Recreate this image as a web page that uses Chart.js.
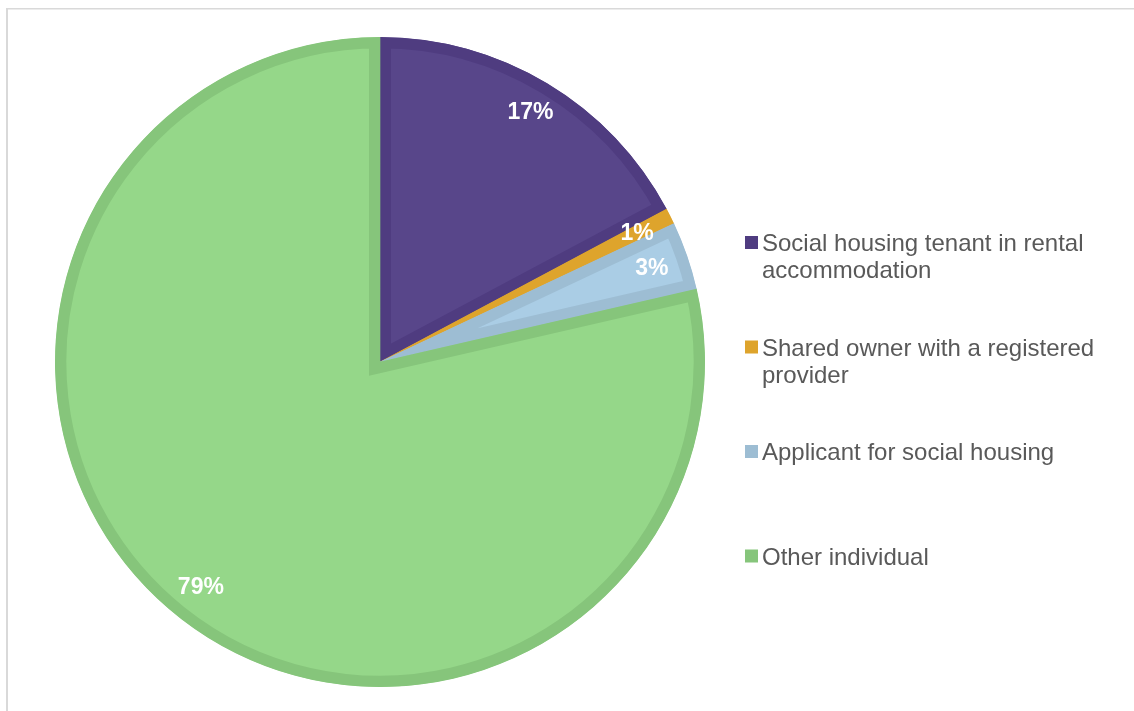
<!DOCTYPE html>
<html>
<head>
<meta charset="utf-8">
<script src="https://cdn.jsdelivr.net/npm/chart.js@4/dist/chart.umd.min.js"></script>
<style>
  html, body { margin: 0; padding: 0; background: #fff; }
  #wrap { width: 1134px; height: 711px; position: relative; }
</style>
</head>
<body>
<div id="wrap"><canvas id="chart"></canvas></div>
<script>
const categories = [
  "Social housing tenant in rental accommodation",
  "Shared owner with a registered provider",
  "Applicant for social housing",
  "Other individual",
];
const shares = [17.2, 0.8, 3.4, 78.6];
const fillColors = ["#58468a", "#e8ad33", "#aacde5", "#95d789"];
const edgeColors = ["#4f3c80", "#dea42c", "#9dbdd3", "#86c57b"];

const FONT = '"Liberation Sans", Arial, sans-serif';

// light frame along top and left edge, like the source sheet
const framePlugin = {
  id: "frame",
  beforeDraw(chart) {
    const ctx = chart.ctx;
    ctx.save();
    ctx.fillStyle = "#d9d9d9";
    ctx.fillRect(6, 8, chart.width - 6, 1.5);
    ctx.fillRect(6, 8, 2, chart.height - 8);
    ctx.restore();
  },
};

// percentage labels inside each slice
const sliceLabels = {
  id: "sliceLabels",
  afterDatasetsDraw(chart) {
    const ctx = chart.ctx;
    const meta = chart.getDatasetMeta(0);
    const total = shares.reduce((a, b) => a + b, 0);
    ctx.save();
    ctx.fillStyle = "#ffffff";
    ctx.font = "bold 23px " + FONT;
    ctx.textAlign = "center";
    ctx.textBaseline = "middle";
    meta.data.forEach((arc, i) => {
      const p = arc.getProps(["x", "y", "startAngle", "endAngle", "outerRadius"], true);
      const mid = (p.startAngle + p.endAngle) / 2;
      const r = p.outerRadius * (i === 0 ? 0.9 : 0.885);
      const txt = Math.round((shares[i] / total) * 100) + "%";
      ctx.fillText(txt, p.x + Math.cos(mid) * r, p.y + Math.sin(mid) * r + 1);
    });
    ctx.restore();
  },
};

// legend on the right, wrapped like the original
const sideLegend = {
  id: "sideLegend",
  afterDraw(chart) {
    const ctx = chart.ctx;
    const x0 = 745;
    const textX = 762;
    const maxW = 345;
    let baseline = 251;
    ctx.save();
    ctx.font = "24px " + FONT;
    ctx.textBaseline = "alphabetic";
    ctx.textAlign = "left";
    categories.forEach((label, i) => {
      ctx.fillStyle = edgeColors[i];
      ctx.fillRect(x0, baseline - 15, 13, 13);

      const words = label.split(" ");
      const lines = [];
      let line = "";
      words.forEach((w) => {
        const test = line ? line + " " + w : w;
        if (ctx.measureText(test).width > maxW && line) {
          lines.push(line);
          line = w;
        } else {
          line = test;
        }
      });
      lines.push(line);

      ctx.fillStyle = "#595959";
      lines.forEach((l, j) => ctx.fillText(l, textX, baseline + j * 27));
      baseline += 104.5;
    });
    ctx.restore();
  },
};

new Chart(document.getElementById("chart"), {
  type: "pie",
  data: {
    labels: categories,
    datasets: [
      {
        data: shares,
        backgroundColor: fillColors,
        borderColor: edgeColors,
        borderWidth: 11,
        borderAlign: "inner",
        borderJoinStyle: "miter",
      },
    ],
  },
  options: {
    responsive: true,
    maintainAspectRatio: false,
    animation: false,
    layout: { padding: { left: 55, right: 429, top: 37, bottom: 24 } },
    plugins: {
      legend: { display: false },
      tooltip: { enabled: false },
    },
  },
  plugins: [framePlugin, sliceLabels, sideLegend],
});
</script>
</body>
</html>
